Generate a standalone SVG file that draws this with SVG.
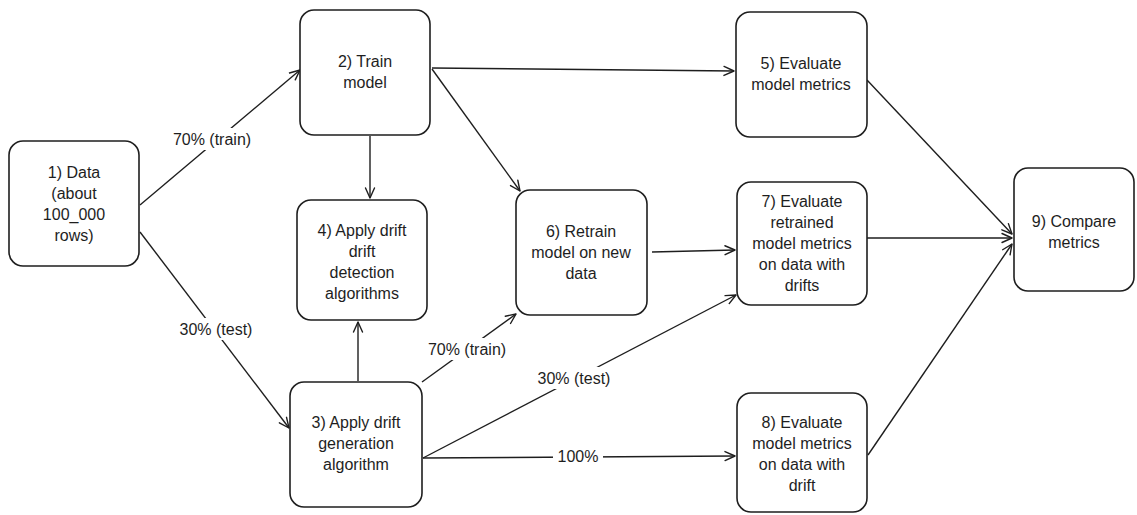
<svg xmlns="http://www.w3.org/2000/svg" width="1137" height="515" viewBox="0 0 1137 515">
<defs>
<marker id="arr" viewBox="0 0 12 12" refX="11" refY="6" markerWidth="12" markerHeight="12" markerUnits="userSpaceOnUse" orient="auto">
<path d="M1,1.5 L11,6 L1,10.5" fill="none" stroke="#1e1e1e" stroke-width="1.4" stroke-linecap="round" stroke-linejoin="round"/>
</marker>
</defs>
<style>
.box{fill:#ffffff;stroke:#1e1e1e;stroke-width:1.6}
.t{font-family:"Liberation Sans",Arial,sans-serif;font-size:16px;fill:#1e1e1e;text-anchor:middle}
.c{fill:none;stroke:#1e1e1e;stroke-width:1.4;marker-end:url(#arr)}
.lb{fill:#ffffff}
</style>
<rect width="1137" height="515" fill="#ffffff"/>
<g id="connectors">
<line class="c" x1="140" y1="205" x2="300" y2="70"/>
<line class="c" x1="140" y1="232" x2="289" y2="428"/>
<line class="c" x1="370" y1="136" x2="370" y2="198"/>
<line class="c" x1="432" y1="68" x2="734" y2="71"/>
<line class="c" x1="432" y1="69" x2="520" y2="191"/>
<line class="c" x1="358" y1="381" x2="358" y2="322"/>
<line class="c" x1="422" y1="382" x2="516" y2="314"/>
<line class="c" x1="423" y1="458" x2="736" y2="295"/>
<line class="c" x1="423" y1="458" x2="735" y2="456"/>
<line class="c" x1="652" y1="252" x2="735" y2="250"/>
<line class="c" x1="867" y1="80" x2="1012" y2="234"/>
<line class="c" x1="867" y1="238" x2="1012" y2="238"/>
<line class="c" x1="868" y1="455" x2="1012" y2="244"/>
<rect class="lb" x="165" y="128" width="94" height="22"/>
<text class="t" x="212" y="145">70% (train)</text>
<rect class="lb" x="172" y="318" width="88" height="22"/>
<text class="t" x="216" y="335">30% (test)</text>
<rect class="lb" x="420" y="338" width="94" height="22"/>
<text class="t" x="467" y="355">70% (train)</text>
<rect class="lb" x="530" y="367" width="88" height="22"/>
<text class="t" x="574" y="384">30% (test)</text>
<rect class="lb" x="553" y="447" width="50" height="20"/>
<text class="t" x="578" y="462">100%</text>
</g>
<g id="n1">
<rect class="box" x="9" y="141" width="130" height="125" rx="14"/>
<text class="t" x="74" y="178">1) Data</text>
<text class="t" x="74" y="199">(about</text>
<text class="t" x="74" y="220">100_000</text>
<text class="t" x="74" y="241">rows)</text>
</g>
<g id="n2">
<rect class="box" x="300" y="10" width="130" height="125" rx="14"/>
<text class="t" x="365" y="67">2) Train</text>
<text class="t" x="365" y="88">model</text>
</g>
<g id="n4">
<rect class="box" x="297" y="200" width="130" height="120" rx="14"/>
<text class="t" x="362" y="236">4) Apply drift</text>
<text class="t" x="362" y="257">drift</text>
<text class="t" x="362" y="278">detection</text>
<text class="t" x="362" y="299">algorithms</text>
</g>
<g id="n3">
<rect class="box" x="290" y="382" width="132" height="125" rx="14"/>
<text class="t" x="356" y="428">3) Apply drift</text>
<text class="t" x="356" y="449">generation</text>
<text class="t" x="356" y="470">algorithm</text>
</g>
<g id="n6">
<rect class="box" x="516" y="190" width="131" height="125" rx="14"/>
<text class="t" x="581" y="237">6) Retrain</text>
<text class="t" x="581" y="258">model on new</text>
<text class="t" x="581" y="279">data</text>
</g>
<g id="n5">
<rect class="box" x="736" y="12" width="131" height="125" rx="14"/>
<text class="t" x="801" y="69">5) Evaluate</text>
<text class="t" x="801" y="90">model metrics</text>
</g>
<g id="n7">
<rect class="box" x="737" y="182" width="130" height="123" rx="14"/>
<text class="t" x="802" y="207">7) Evaluate</text>
<text class="t" x="802" y="228">retrained</text>
<text class="t" x="802" y="249">model metrics</text>
<text class="t" x="802" y="270">on data with</text>
<text class="t" x="802" y="291">drifts</text>
</g>
<g id="n8">
<rect class="box" x="737" y="393" width="130" height="119" rx="14"/>
<text class="t" x="802" y="428">8) Evaluate</text>
<text class="t" x="802" y="449">model metrics</text>
<text class="t" x="802" y="470">on data with</text>
<text class="t" x="802" y="491">drift</text>
</g>
<g id="n9">
<rect class="box" x="1014" y="168" width="120" height="123" rx="14"/>
<text class="t" x="1074" y="227">9) Compare</text>
<text class="t" x="1074" y="248">metrics</text>
</g>
</svg>
